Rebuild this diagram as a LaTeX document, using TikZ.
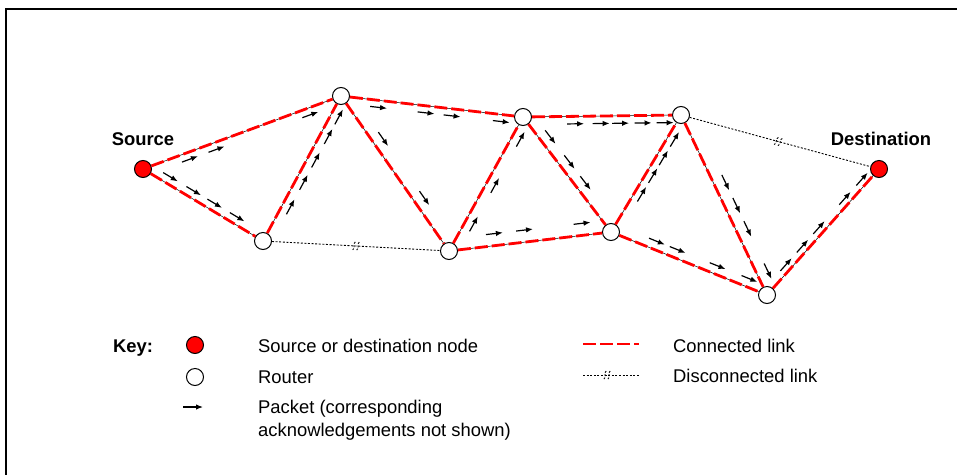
\documentclass[tikz,border=0pt]{standalone}
\usepackage{fontspec}
\setmainfont{Liberation Sans}
\usetikzlibrary{arrows.meta}

\tikzset{
  router/.style={circle, draw=black, fill=white, line width=1pt, minimum size=17pt, inner sep=0pt},
  endpoint/.style={router, fill=red},
  link/.style={red, line width=2.8pt, dash pattern=on 13pt off 4pt},
  wire/.style={black, line width=0.5pt},
  nolink/.style={black, line width=0.9pt, dash pattern=on 2pt off 1.6pt},
  packet/.style={black, line width=1.2pt, -{Latex[length=7pt,width=5.5pt]}},
  title/.style={font=\fontsize{18.4}{22}\selectfont\bfseries, inner sep=0pt, anchor=base},
  keytext/.style={font=\fontsize{18.4}{22}\selectfont, inner sep=0pt, anchor=base west},
  pkt/.pic={\draw[packet] (-8.5,#1) -- (8.5,#1);},
  brk/.pic={
    \foreach \s in {-2,2}
      \draw[black, line width=0.9pt] (\s+1.1,-4) .. controls (\s-2.4,-1.6) and (\s+2.4,1.6) .. (\s-1.1,4);
  }
}

\begin{document}
\begin{tikzpicture}[x=1pt, y=-1pt]
  \useasboundingbox (0,0) rectangle (957,474);
  \clip (0,0) rectangle (957,474);
  \draw[line width=2pt] (6,9) rectangle (1000,520);

  % network
  \node[endpoint] (S) at (143,169) {};
  \node[endpoint] (D) at (879,169) {};
  \node[router] (R1) at (263,241) {};
  \node[router] (R2) at (341,96) {};
  \node[router] (R3) at (449,251) {};
  \node[router] (R4) at (523,117) {};
  \node[router] (R5) at (611,232) {};
  \node[router] (R6) at (681,115) {};
  \node[router] (R7) at (767,295) {};

  \node[title] (srclbl) at (143,145) {Source};
  \node[title] (dstlbl) at (881,145) {Destination};

  \foreach \a/\b in {S/R2, S/R1, R1/R2, R2/R4, R2/R3, R3/R4, R3/R5,
                     R4/R6, R4/R5, R5/R6, R5/R7, R6/R7, R7/D}{
    \draw[wire] (\a) -- (\b);
    \draw[link] (\a) -- (\b);
  }
  \draw[nolink] (R1) -- (R3) pic[pos=.5, sloped, allow upside down]{brk};
  \draw[nolink] (R6) -- (D) pic[pos=.49, sloped, allow upside down]{brk};

  % packets
  \foreach \t in {.225,.359,.833}
    \path (S.center) -- (R2.center) pic[pos=\t, sloped, allow upside down]{pkt=7};
  \foreach \t in {.198,.391,.566,.753}
    \path (S.center) -- (R1.center) pic[pos=\t, sloped, allow upside down]{pkt=-7.3};
  \foreach \t in {.262,.431,.585,.747,.882}
    \path (R1.center) -- (R2.center) pic[pos=\t, sloped, allow upside down]{pkt=8};
  \foreach \t in {.211,.472,.615,.885}
    \path (R2.center) -- (R4.center) pic[pos=\t, sloped, allow upside down]{pkt=7};
  \foreach \t in {.315,.696}
    \path (R2.center) -- (R3.center) pic[pos=\t, sloped, allow upside down]{pkt=-10};
  \foreach \t in {.233,.52,.865}
    \path (R3.center) -- (R4.center) pic[pos=\t, sloped, allow upside down]{pkt=8.5};
  \foreach \t in {.289,.475,.83}
    \path (R3.center) -- (R5.center) pic[pos=\t, sloped, allow upside down]{pkt=-12};
  \foreach \t in {.332,.494,.617,.759,.899}
    \path (R4.center) -- (R6.center) pic[pos=\t, sloped, allow upside down]{pkt=7.5};
  \foreach \t in {.225,.442,.624}
    \path (R4.center) -- (R5.center) pic[pos=\t, sloped, allow upside down]{pkt=-9.5};
  \foreach \t in {.354,.513,.665,.823}
    \path (R5.center) -- (R6.center) pic[pos=\t, sloped, allow upside down]{pkt=7};
  \foreach \t in {.274,.407,.663,.867}
    \path (R5.center) -- (R7.center) pic[pos=\t, sloped, allow upside down]{pkt=-8.5};
  \foreach \t in {.402,.53,.659,.894}
    \path (R6.center) -- (R7.center) pic[pos=\t, sloped, allow upside down]{pkt=-11};
  \foreach \t in {.21,.357,.504,.736,.888}
    \path (R7.center) -- (D.center) pic[pos=\t, sloped, allow upside down]{pkt=-6};

  % key
  \node[title, anchor=base west] (keylbl) at (113,352) {Key:};
  \node[endpoint] (keyend) at (195,345) {};
  \node[router] (keyrouter) at (195,377) {};
  \coordinate (keypktA) at (183,407);
  \coordinate (keypktB) at (203,407);
  \draw[packet] (keypktA) -- (keypktB);
  \node[keytext] (keyendtxt) at (258,352) {Source or destination node};
  \node[keytext] (keyroutertxt) at (258,383) {Router};
  \node[keytext] (keypkttxt) at (258,413) {Packet (corresponding};
  \node[keytext] (keypkttxtb) at (258,436) {acknowledgements not shown)};

  \coordinate (keylinkA) at (583,344);
  \coordinate (keylinkB) at (639,344);
  \draw[link] (keylinkA) -- (keylinkB);
  \coordinate (keynolinkA) at (583,375);
  \coordinate (keynolinkB) at (639,375);
  \draw[nolink] (keynolinkA) -- (keynolinkB) pic[pos=.43]{brk};
  \node[keytext] (keylinktxt) at (673,352) {Connected link};
  \node[keytext] (keynolinktxt) at (673,382) {Disconnected link};
\end{tikzpicture}
\end{document}
